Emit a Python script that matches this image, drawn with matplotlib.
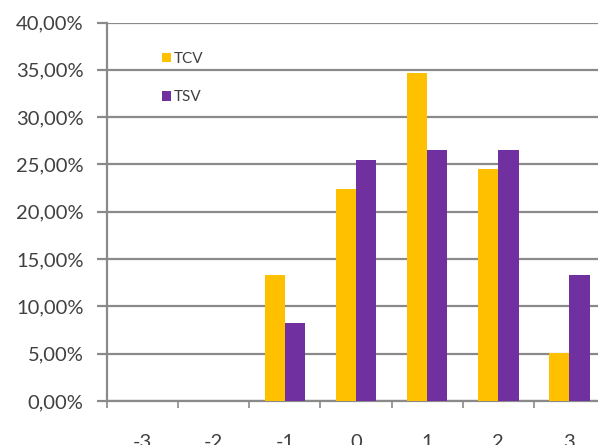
import matplotlib
matplotlib.use("Agg")
import matplotlib.pyplot as plt
import numpy as np
from matplotlib.ticker import FuncFormatter, FixedLocator

categories = ["-3", "-2", "-1", "0", "1", "2", "3"]
tcv = [0.0, 0.0, 13.3, 22.4, 34.7, 24.5, 5.1]
tsv = [0.0, 0.0, 8.2, 25.5, 26.5, 26.5, 13.3]
series_names = ["TCV", "TSV"]
colors = ["#FFC000", "#7030A0"]

W, H = 598, 445
fig = plt.figure(figsize=(W / 100, H / 100), dpi=100)
plt.rcParams['font.family'] = ['Lato', 'DejaVu Sans']

x0, x1 = 107, 605
y0, y1 = 401, 22.5
ax = fig.add_axes([x0 / W, (H - y0) / H, (x1 - x0) / W, (y0 - y1) / H])

x = np.arange(len(categories))
bw = 0.286
ax.bar(x - bw / 2, tcv, bw, color=colors[0], label=series_names[0], zorder=3)
ax.bar(x + bw / 2, tsv, bw, color=colors[1], label=series_names[1], zorder=3)

ax.set_xlim(-0.5, len(categories) - 0.5)
ax.set_ylim(0, 40)
ax.set_yticks(np.arange(0, 40.1, 5))
ax.yaxis.set_major_formatter(FuncFormatter(lambda v, p: f"{v:.2f}".replace(".", ",") + "%"))
ax.set_xticks(x)
ax.set_xticklabels(categories)
ax.xaxis.set_minor_locator(FixedLocator(np.arange(-0.5, len(categories), 1)))

gridc = "#8a8a8a"
ax.grid(axis="y", color=gridc, linewidth=1.6, zorder=0)
for s in ["top", "right"]:
    ax.spines[s].set_visible(False)
for s in ["left", "bottom"]:
    ax.spines[s].set_color(gridc)
    ax.spines[s].set_linewidth(1.6)

ax.tick_params(axis="y", length=7, width=1.6, color=gridc, labelsize=14.5, labelcolor="#404040", pad=10)
ax.tick_params(axis="x", which="major", length=0, labelsize=14.5, labelcolor="#404040", pad=24)
ax.tick_params(axis="x", which="minor", length=5, width=1.2, color=gridc, direction="out")

leg = fig.legend(loc="upper left", bbox_to_anchor=(148 / W, 1 - 38 / H), frameon=False,
                 handlelength=0.6, handleheight=0.6, handletextpad=0.2, labelspacing=1.6,
                 prop={"size": 11})
for t in leg.get_texts():
    t.set_color("#404040")

fig.savefig("out.png", dpi=100)
